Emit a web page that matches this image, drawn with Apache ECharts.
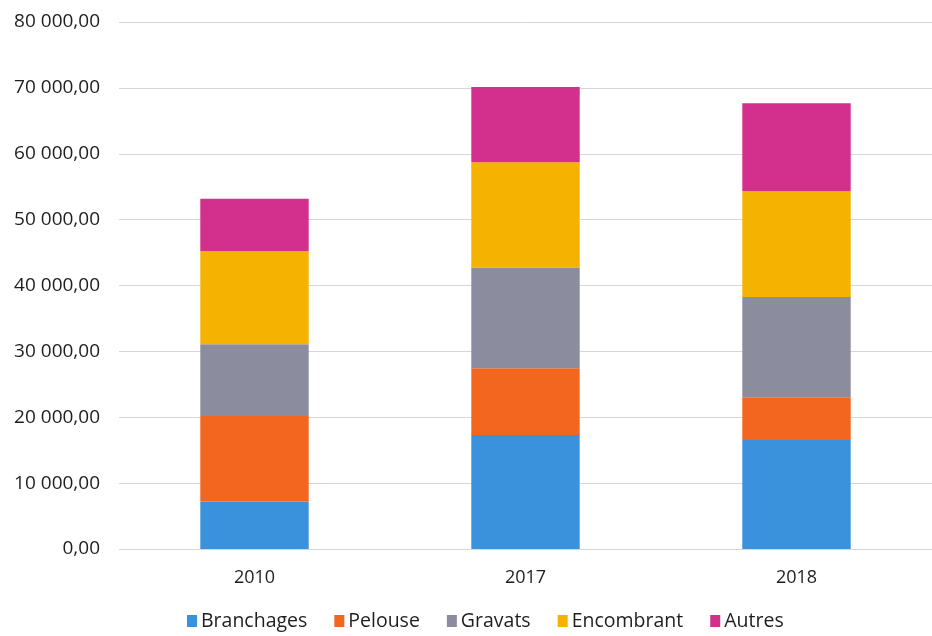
<!DOCTYPE html>
<html>
<head>
<meta charset="utf-8">
<script src="https://cdn.jsdelivr.net/npm/echarts@6/dist/echarts.min.js"></script>
<style>
html,body{margin:0;padding:0;background:#fff;}
#chart{width:932px;height:636px;}
</style>
</head>
<body>
<div id="chart"></div>
<script>
var categories = ['2010', '2017', '2018'];
var seriesNames = ['Branchages', 'Pelouse', 'Gravats', 'Encombrant', 'Autres'];
var branchages = [7200, 17300, 16550];
var pelouse = [13000, 10150, 6500];
var gravats = [10900, 15300, 15200];
var encombrant = [14100, 15950, 16050];
var autres = [7950, 11450, 13350];
var colors = ['#3a92dc', '#f2661f', '#8b8c9e', '#f6b200', '#d2308c'];

var values = [branchages, pelouse, gravats, encombrant, autres];

function fmt(v) {
  var s = v.toFixed(2).split('.');
  var intPart = s[0].replace(/\B(?=(\d{3})+(?!\d))/g, ' ');
  return intPart + ',' + s[1];
}

var chart = echarts.init(document.getElementById('chart'));
var font = '"Open Sans", sans-serif';
var txt = '#1e1e1e';
chart.setOption({
  animation: false,
  textStyle: { fontFamily: font },
  legend: {
    data: seriesNames,
    top: 611,
    left: 187,
    padding: 0,
    icon: 'rect',
    itemWidth: 10,
    itemHeight: 12,
    itemGap: 27,
    textStyle: { fontFamily: font, fontSize: 19.5, color: txt, padding: [0, 0, 0, -1] }
  },
  grid: { left: 119, right: -15, top: 22, bottom: 87 },
  xAxis: {
    type: 'category',
    data: categories,
    axisLine: { show: false },
    axisTick: { show: false },
    axisLabel: { fontFamily: font, fontSize: 18, color: txt, margin: 20 }
  },
  yAxis: {
    type: 'value',
    min: 0,
    max: 80000,
    interval: 10000,
    axisLine: { show: false },
    axisTick: { show: false },
    splitLine: { lineStyle: { color: '#d6d6d6', width: 1 } },
    axisLabel: { fontFamily: font, fontSize: 19, color: txt, margin: 19, formatter: fmt }
  },
  series: seriesNames.map(function (n, i) {
    return {
      name: n,
      type: 'bar',
      stack: 'total',
      barWidth: '40%',
      itemStyle: { color: colors[i] },
      data: values[i]
    };
  })
});
</script>
</body>
</html>
